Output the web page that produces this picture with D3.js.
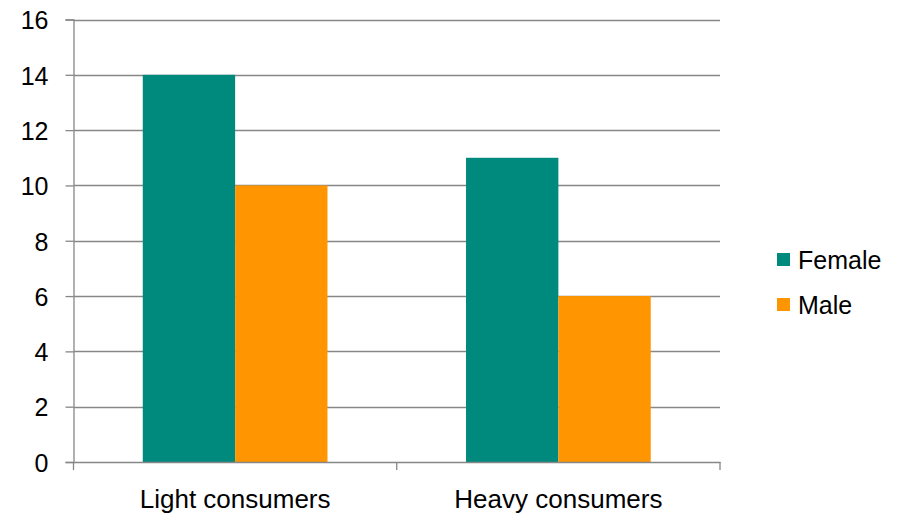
<!DOCTYPE html>
<html>
<head>
<meta charset="utf-8">
<script src="https://cdn.jsdelivr.net/npm/d3@7"></script>
<style>
  html, body { margin: 0; padding: 0; background: #fff; }
  svg { display: block; }
  text { font-family: "Liberation Sans", Arial, sans-serif; fill: #000; }
</style>
</head>
<body>
<svg id="chart" width="900" height="515"></svg>
<script>
const categories = ["Light consumers", "Heavy consumers"];
const seriesNames = ["Female", "Male"];
const femaleValues = [14, 11];
const maleValues = [10, 6];
const yTicks = [0, 2, 4, 6, 8, 10, 12, 14, 16];
const colors = ["#00897D", "#FF9500"];

const seriesValues = [femaleValues, maleValues];
const svg = d3.select("#chart");
const plotLeft = 73.5, plotRight = 720, plotTop = 19.5, plotBottom = 462;
const fontFam = '"Liberation Sans", Arial, sans-serif';

const x = d3.scaleBand().domain(categories).range([plotLeft, plotRight]).padding(0);
const xInner = d3.scaleBand().domain(seriesNames).range([0, x.bandwidth()])
  .paddingInner(0).paddingOuter(0.75);
const y = d3.scaleLinear().domain([0, 16]).range([plotBottom, plotTop]);

const axisColor = "#878787";

// gridlines
svg.append("g").selectAll("line").data(yTicks.filter(d => d !== 0)).join("line")
  .attr("x1", plotLeft).attr("x2", plotRight)
  .attr("y1", d => Math.round(y(d)) + 0.5).attr("y2", d => Math.round(y(d)) + 0.5)
  .attr("stroke", axisColor).attr("stroke-width", 1.3);

// bars
const data = [];
categories.forEach((c, i) => seriesNames.forEach((s, j) => data.push({c, s, j, v: seriesValues[j][i]})));
svg.append("g").selectAll("rect").data(data).join("rect")
  .attr("x", d => x(d.c) + xInner(d.s))
  .attr("width", xInner.bandwidth())
  .attr("y", d => y(d.v))
  .attr("height", d => y(0) - y(d.v))
  .attr("fill", d => colors[d.j]);

// y axis
const yAxis = svg.append("g").attr("transform", `translate(${plotLeft},0)`)
  .call(d3.axisLeft(y).tickValues(yTicks).tickSize(8).tickPadding(17).tickFormat(d3.format("d")));
yAxis.select(".domain").attr("stroke", axisColor).attr("stroke-width", 1.3);
yAxis.selectAll(".tick line").attr("stroke", axisColor).attr("stroke-width", 1.3);
yAxis.selectAll(".tick text").attr("font-size", 25).attr("fill", "#000")
  .attr("font-family", fontFam).attr("dy", "0.37em");

// x axis
const xAxis = svg.append("g").attr("transform", `translate(0,${plotBottom})`)
  .call(d3.axisBottom(x).tickSize(0).tickPadding(28));
xAxis.select(".domain").attr("stroke", axisColor).attr("stroke-width", 1.3);
xAxis.selectAll(".tick text").attr("font-size", 26).attr("fill", "#000")
  .attr("font-family", fontFam);
// category boundary ticks
const bounds = categories.map(c => x(c)).concat([x(categories[categories.length - 1]) + x.bandwidth()]);
xAxis.append("g").selectAll("line").data(bounds).join("line")
  .attr("x1", d => d).attr("x2", d => d).attr("y1", 0).attr("y2", 8)
  .attr("stroke", axisColor).attr("stroke-width", 1.3);

// legend
const legend = svg.append("g").attr("transform", "translate(777,253)");
const li = legend.selectAll("g").data(seriesNames).join("g")
  .attr("transform", (d, i) => `translate(0,${i * 45})`);
li.append("rect").attr("width", 13).attr("height", 13).attr("fill", (d, i) => colors[i]);
li.append("text").attr("x", 21).attr("y", 15.5).attr("font-size", 25).text(d => d);
</script>
</body>
</html>
